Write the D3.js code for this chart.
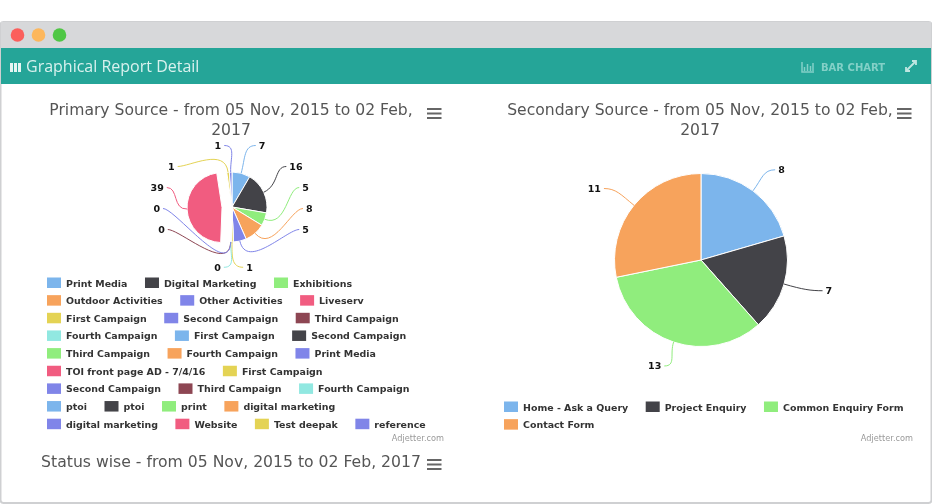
<!DOCTYPE html>
<html lang="en">
<head>
<meta charset="UTF-8">
<title>Graphical Report Detail</title>
<style>
  html, body { margin: 0; padding: 0; background: #fff; overflow: hidden; }
  svg { display: block; filter: blur(0.6px); }
  text { font-family: "DejaVu Sans", sans-serif; }
</style>
<script src="https://d3js.org/d3.v7.min.js"></script>
</head>
<body>
<svg id="page" width="932" height="504"></svg>
<script>
// colours of the chart library palette, repeated by the slices
const palette = ["#7cb5ec", "#434348", "#90ed7d", "#f7a35c", "#8085e9", "#f15c80", "#e4d354", "#8085e8", "#8d4653", "#91e8e1"];

const primaryNames = ["Print Media", "Digital Marketing", "Exhibitions", "Outdoor Activities", "Other Activities", "Liveserv",
  "First Campaign", "Second Campaign", "Third Campaign", "Fourth Campaign", "First Campaign", "Second Campaign",
  "Third Campaign", "Fourth Campaign", "Print Media", "TOI front page AD - 7/4/16", "First Campaign", "Second Campaign",
  "Third Campaign", "Fourth Campaign", "ptoi", "ptoi", "print", "digital marketing",
  "digital marketing", "Website", "Test deepak", "reference"];
const primaryValues = [7, 16, 5, 8, 5, 0,
  1, 0, 0, 0, 0, 0,
  0, 0, 0, 0, 0, 0,
  0, 0, 0, 0, 0, 0,
  0, 39, 1, 1];

const secondaryNames = ["Home - Ask a Query", "Project Enquiry", "Common Enquiry Form", "Contact Form"];
const secondaryValues = [8, 7, 13, 11];

// which label row each labelled primary slice sits in (slice index -> row)
const primaryLabelRows = new Map([[0, -3], [1, -2], [2, -1], [3, 0], [4, 1], [6, 2.8], [9, 2.8], [8, 1], [24, 0], [25, -1], [26, -2], [27, -3]]);
// sideways nudge for the crowded labels at the top and bottom
const primaryLabelNudge = new Map([[0, 4], [27, 12], [6, -20], [9, 23], [8, 3], [24, 2], [25, 2]]);
const slicedIndex = 25;

const svg = d3.select("#page");

// window frame
svg.append("rect").attr("x", 0.5).attr("y", 22).attr("width", 931).attr("height", 481)
  .attr("fill", "#fff").attr("stroke", "#cfd0d2").attr("stroke-width", 2).attr("rx", 3);
svg.append("rect").attr("x", 1).attr("y", 22).attr("width", 930).attr("height", 26).attr("fill", "#d7d8da");
svg.append("rect").attr("x", 1).attr("y", 48).attr("width", 930).attr("height", 36).attr("fill", "#25a598");

svg.selectAll("circle.dot").data(["#fb5f5c", "#fdb75c", "#4fc745"]).enter().append("circle")
  .attr("class", "dot").attr("cx", (d, i) => 17.5 + i * 21).attr("cy", 35).attr("r", 6.8).attr("fill", (d) => d);

// header
svg.selectAll("rect.hicon").data([0, 1, 2]).enter().append("rect").attr("class", "hicon")
  .attr("x", (d) => 10 + d * 4).attr("y", 63).attr("width", 3).attr("height", 9).attr("fill", "#e6f5f3");
svg.append("text").attr("x", 26).attr("y", 72).attr("fill", "#d9f1ee")
  .style("font-family", "'Open Sans', sans-serif").style("font-size", "16px").text("Graphical Report Detail");
svg.append("text").attr("x", 821).attr("y", 71).attr("fill", "#83d0c7")
  .style("font-size", "10px").style("font-weight", "bold").text("BAR CHART");
svg.append("path").attr("d", "M802 62V72H814M804.5 71V67M807.5 71V64M810.5 71V66M813 71V63")
  .attr("fill", "none").attr("stroke", "#83d0c7").attr("stroke-width", 1.5);
svg.append("path").attr("d", "M906 71L916 61M912 61H916V65M906 67V71H910")
  .attr("fill", "none").attr("stroke", "#bfe6e1").attr("stroke-width", 1.8);

function title(lines, cx, y, size) {
  lines.forEach((line, i) => {
    svg.append("text").attr("x", cx).attr("y", y + i * 20).attr("text-anchor", "middle")
      .attr("fill", "#555").style("font-size", size + "px").text(line);
  });
}

function menuIcon(x, y) {
  svg.selectAll(null).data([0, 1, 2]).enter().append("rect")
    .attr("x", x).attr("y", (d) => y + d * 4.5).attr("width", 14.5).attr("height", 2).attr("fill", "#666");
}

function legend(names, x0, y0, right) {
  let x = x0, y = y0;
  names.forEach((name, i) => {
    const g = svg.append("g");
    const label = g.append("text").attr("fill", "#333").style("font-size", "9.45px").style("font-weight", "bold").text(name);
    const w = label.node().getComputedTextLength();
    if (x + 19 + w > right) { x = x0; y += 17.65; }
    g.append("rect").attr("x", x).attr("y", y - 5.5).attr("width", 14).attr("height", 10.5).attr("fill", palette[i % palette.length]);
    label.attr("x", x + 19).attr("y", y + 3.5);
    x += 19 + w + 17.5;
  });
}

function credit(x, y) {
  svg.append("text").attr("x", x).attr("y", y).attr("text-anchor", "end")
    .attr("fill", "#999").style("font-size", "8.2px").text("Adjetter.com");
}

function slices(values) {
  return d3.pie().sort(null).value((d) => d)(values);
}

// soft connector from the label side to the edge of the pie
function connector(sx, sy, side, midAngle, cx, cy, r) {
  const ex = cx + Math.sin(midAngle) * r, ey = cy - Math.cos(midAngle) * r;
  const reach = Math.hypot(sx - ex, sy - ey) * 0.5;
  const p = d3.path();
  p.moveTo(sx, sy);
  p.bezierCurveTo(sx - side * Math.min(reach, 12), sy, ex + Math.sin(midAngle) * reach, ey - Math.cos(midAngle) * reach, ex, ey);
  return p.toString();
}

function drawSlices(pieData, cx, cy, r, sliced) {
  const arc = d3.arc().innerRadius(0).outerRadius(r);
  svg.append("g").selectAll("path").data(pieData).enter().append("path")
    .attr("d", arc)
    .attr("fill", (d) => palette[d.index % palette.length])
    .attr("stroke", "#fff").attr("stroke-width", 1)
    .attr("transform", (d) => {
      const off = d.index === sliced ? 10 : 0;
      const a = (d.startAngle + d.endAngle) / 2;
      return "translate(" + (cx + Math.sin(a) * off) + "," + (cy - Math.cos(a) * off) + ")";
    });
}

function drawLabel(d, x, y, side, cx, cy, r) {
  const a = (d.startAngle + d.endAngle) / 2;
  svg.append("path").attr("d", connector(x + side * -3, y - 3.5, side, a, cx, cy, r))
    .attr("fill", "none").attr("stroke", palette[d.index % palette.length]).attr("stroke-width", 1);
  svg.append("text").attr("x", x).attr("y", y).attr("text-anchor", side > 0 ? "start" : "end")
    .attr("fill", "#111").style("font-size", "9.5px").style("font-weight", "bold").text(d.value);
}

// primary source pie
const pCx = 232, pCy = 207, pR = 35;
title(["Primary Source - from 05 Nov, 2015 to 02 Feb,", "2017"], 231, 115, 15.6);
menuIcon(427, 108);
const primaryPie = slices(primaryValues);
drawSlices(primaryPie, pCx, pCy, pR, slicedIndex);
primaryPie.forEach((d) => {
  if (!primaryLabelRows.has(d.index)) return;
  const row = primaryLabelRows.get(d.index);
  const mid = (d.startAngle + d.endAngle) / 2;
  const side = mid < Math.PI + 0.02 ? 1 : -1;
  const dy = row * 21;
  const dx = 73 * Math.sqrt(Math.max(0, 1 - (dy / 66) * (dy / 66)));
  const off = d.index === slicedIndex ? 10 : 0;
  const nudge = primaryLabelNudge.get(d.index) || 0;
  drawLabel(d, pCx + side * (dx + 1) + nudge, pCy + 5 + dy, side, pCx - off, pCy, pR);
});
legend(primaryNames, 47, 283, 440);
credit(444, 441);

// secondary source pie
const sCx = 701, sCy = 260, sR = 86.5;
title(["Secondary Source - from 05 Nov, 2015 to 02 Feb,", "2017"], 700, 115, 15.6);
menuIcon(897, 108);
const secondaryPie = slices(secondaryValues);
drawSlices(secondaryPie, sCx, sCy, sR, -1);
const labelArc = d3.arc().innerRadius(122).outerRadius(122);
secondaryPie.forEach((d) => {
  const c = labelArc.centroid(d);
  const side = c[0] > 0 ? 1 : -1;
  // labels sit on a flattened ring, wider than it is tall
  drawLabel(d, sCx + c[0] * 1.08 - side * 2, sCy + c[1] * 0.92 + 3, side, sCx, sCy, sR);
});
legend(secondaryNames, 504, 407, 915);
credit(913, 441);

title(["Status wise - from 05 Nov, 2015 to 02 Feb, 2017"], 231, 467, 15.65);
menuIcon(427, 459);
</script>
</body>
</html>
